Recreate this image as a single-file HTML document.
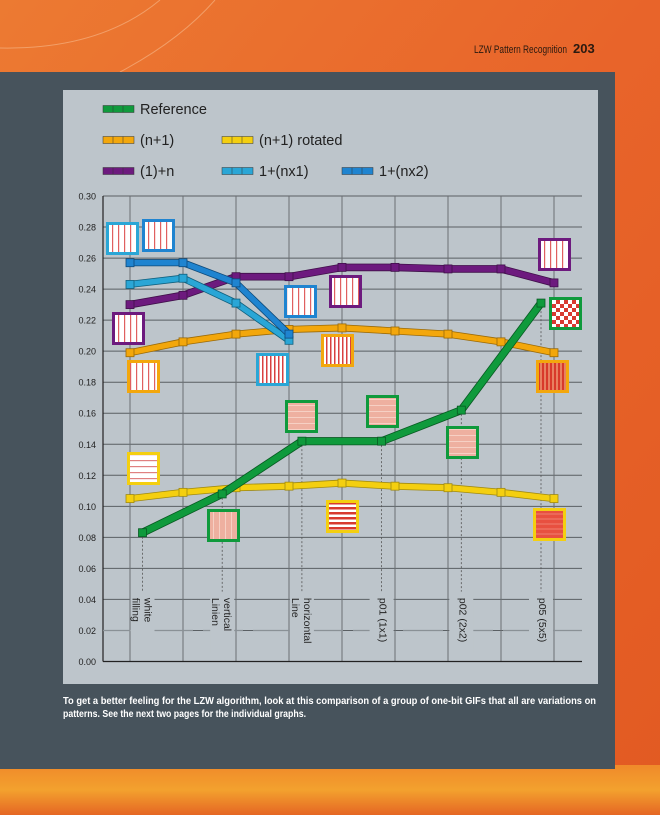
<!DOCTYPE html>
<html><head><meta charset="utf-8"><style>
html,body{margin:0;padding:0;width:660px;height:815px;overflow:hidden;font-family:"Liberation Sans",sans-serif}
</style></head><body>
<svg id="s" width="660" height="815" viewBox="0 0 660 815" xmlns="http://www.w3.org/2000/svg">
<defs>
<linearGradient id="bg" x1="0" y1="0" x2="1" y2="1"><stop offset="0" stop-color="#ec7a32"/><stop offset="0.5" stop-color="#e8642a"/><stop offset="1" stop-color="#e25a22"/></linearGradient>
<linearGradient id="bot" x1="0" y1="0" x2="0" y2="1"><stop offset="0" stop-color="#f08a2a"/><stop offset="0.5" stop-color="#f3a12e"/><stop offset="1" stop-color="#e56624"/></linearGradient>
<pattern id="pv" width="6" height="6" patternUnits="userSpaceOnUse"><rect width="6" height="6" fill="#fff"/><rect x="4" width="1.2" height="6" fill="#e06060"/></pattern>
<pattern id="pvd" width="4" height="4" patternUnits="userSpaceOnUse"><rect width="4" height="4" fill="#fff"/><rect x="2" width="1.5" height="4" fill="#d84040"/></pattern>
<pattern id="pvr" width="4" height="4" patternUnits="userSpaceOnUse"><rect width="4" height="4" fill="#e88060"/><rect x="2" width="2" height="4" fill="#d83a2a"/></pattern>
<pattern id="ph" width="6" height="6" patternUnits="userSpaceOnUse"><rect width="6" height="6" fill="#fff"/><rect y="4" width="6" height="1.2" fill="#e08080"/></pattern>
<pattern id="phr" width="5" height="5" patternUnits="userSpaceOnUse"><rect width="5" height="5" fill="#fff"/><rect y="2" width="5" height="2.5" fill="#d83a30"/></pattern>
<pattern id="phd" width="5" height="5" patternUnits="userSpaceOnUse"><rect width="5" height="5" fill="#e85040"/><rect y="3.5" width="5" height="1" fill="#f08070"/></pattern>
<pattern id="pp" width="6" height="6" patternUnits="userSpaceOnUse"><rect width="6" height="6" fill="#eeb0a0"/><rect y="3" width="6" height="1" fill="#f6d0c4"/></pattern>
<pattern id="ppv" width="6" height="6" patternUnits="userSpaceOnUse"><rect width="6" height="6" fill="#eeb0a0"/><rect x="3" width="1" height="6" fill="#f6d0c4"/></pattern>
<pattern id="ck" width="8" height="8" patternUnits="userSpaceOnUse"><rect width="8" height="8" fill="#fff"/><rect width="4" height="4" fill="#d83a30"/><rect x="4" y="4" width="4" height="4" fill="#d83a30"/></pattern>
</defs>
<rect width="660" height="815" fill="url(#bg)"/>
<rect x="0" y="765" width="660" height="50" fill="url(#bot)"/>
<path d="M0 48 Q100 50 160 0" stroke="#f5b080" stroke-width="1" fill="none" opacity="0.7"/>
<path d="M120 72 Q180 40 215 0" stroke="#f5b080" stroke-width="1" fill="none" opacity="0.7"/>
<text x="474" y="53" font-size="11" fill="#2a1a10" textLength="93" lengthAdjust="spacingAndGlyphs">LZW Pattern Recognition</text>
<text x="573" y="53" font-size="13" font-weight="bold" fill="#2a1a10">203</text>
<rect x="0" y="72" width="615" height="697" fill="#47535c"/>
<rect x="63" y="90" width="535" height="594" fill="#bdc5cb"/>
<g font-size="10.5" font-weight="bold" fill="#fff">
<text x="63" y="704" textLength="533" lengthAdjust="spacingAndGlyphs">To get a better feeling for the LZW algorithm, look at this comparison of a group of one-bit GIFs that all are variations on</text>
<text x="63" y="717" textLength="243" lengthAdjust="spacingAndGlyphs">patterns. See the next two pages for the individual graphs.</text>
</g>
<g id="legend"></g>
<g id="grid"></g>
<g id="marks"></g>
<g id="icons"></g>
</svg>
<script>
const yTicks=[0,0.02,0.04,0.06,0.08,0.10,0.12,0.14,0.16,0.18,0.20,0.22,0.24,0.26,0.28,0.30];
const yTickLabels=["0.00","0.02","0.04","0.06","0.08","0.10","0.12","0.14","0.16","0.18","0.20","0.22","0.24","0.26","0.28","0.30"];
const categories=["white|filling","vertical|Linien","horizontal|Line","p01 (1x1)","p02 (2x2)","p05 (5x5)"];
const reference=[0.083,0.108,0.142,0.142,0.162,0.231];
const nPlus1=[0.199,0.206,0.211,0.214,0.215,0.213,0.211,0.206,0.199];
const nPlus1Rotated=[0.105,0.109,0.112,0.113,0.115,0.113,0.112,0.109,0.105];
const onePlusN=[0.230,0.236,0.248,0.248,0.254,0.254,0.253,0.253,0.244];
const onePlusNx1=[0.243,0.247,0.231,0.207];
const onePlusNx2=[0.257,0.257,0.244,0.211];
const NS='http://www.w3.org/2000/svg';
const X0=103,X1=582,Y0=661.5,Y1=196;
function y(v){return Y0-(v-0)/(0.30)*(Y0-Y1);}
function xg(i){return 130+i*53;}
function xc(j){return 142.5+j*79.7;}
function mk(t,a,p){const e=document.createElementNS(NS,t);for(const k in a)e.setAttribute(k,a[k]);(p||document.getElementById('marks')).appendChild(e);return e;}
const grid=document.getElementById('grid');
yTicks.forEach((v,i)=>{
  const l=mk('line',{x1:X0,x2:X1,y1:y(v),y2:y(v),stroke:'#5a5f63','stroke-width':1},grid);
  
  
  const t=mk('text',{x:96,y:y(v)+3.5,'font-size':9,'text-anchor':'end',fill:'#222'},grid);
  t.textContent=yTickLabels[i];
  
  
});
for(let i=0;i<9;i++){
  const l=mk('line',{x1:xg(i),x2:xg(i),y1:Y1,y2:Y0,stroke:'#6a6f73','stroke-width':1},grid);
  
  
}
mk('line',{x1:X0,x2:X0,y1:Y1,y2:Y0,stroke:'#222','stroke-width':1.2},grid);
mk('line',{x1:X0,x2:X1,y1:Y0,y2:Y0,stroke:'#222','stroke-width':1.2},grid);
// dashed 0.02 line
mk('line',{x1:X0,x2:X1,y1:y(0.02),y2:y(0.02),stroke:'#8a9196','stroke-width':1.3,'stroke-dasharray':'40 10'},grid);
categories.forEach((c,j)=>{
  const x=xc(j);
  mk('rect',{x:x-12,y:y(0.045),width:24,height:y(0.0)-y(0.045)-8,fill:'#bdc5cb'},grid);
  const d=mk('line',{x1:x,x2:x,y1:y(reference[j]),y2:y(0.045),stroke:'#555','stroke-width':0.8,'stroke-dasharray':'2 2'},grid);
  
  const parts=c.split('|');
  parts.forEach((p,k)=>{
    const ox=parts.length>1?(k===0?5:-7):1;
    const t=mk('text',{transform:`translate(${x+ox-3},${y(0.041)}) rotate(90)`,'font-size':10.5,fill:'#222'},grid);
    t.textContent=p;
    
    
  });
});
function series(pts,color,dark,name,w){
  const d=pts.map((p,i)=>(i?'L':'M')+p[0].toFixed(1)+' '+p[1].toFixed(1)).join(' ');
  const g=mk('g',{});
  
  
  mk('path',{d,stroke:dark,'stroke-width':w+1.6,fill:'none','stroke-linejoin':'miter'},g);
  mk('path',{d,stroke:color,'stroke-width':w,fill:'none','stroke-linejoin':'miter'},g);
  pts.forEach(p=>{
    const r=mk('rect',{x:p[0]-4,y:p[1]-4,width:8,height:8,fill:color,stroke:dark,'stroke-width':0.8},g);
    
    
  });
}
series(nPlus1Rotated.map((v,i)=>[xg(i),y(v)]),'#f4cf10','#a08a10','series-n-plus-1-rotated',5.5);
series(nPlus1.map((v,i)=>[xg(i),y(v)]),'#f3a70c','#9a6a08','series-n-plus-1',5.5);
series(onePlusN.map((v,i)=>[xg(i),y(v)]),'#6d1a7e','#40104a','series-1-plus-n',6);
series(onePlusNx1.map((v,i)=>[xg(i),y(v)]),'#2aa6d6','#10607e','series-1-plus-nx1',5.5);
series(onePlusNx2.map((v,i)=>[xg(i),y(v)]),'#1f84d0','#0e4a7a','series-1-plus-nx2',5.5);
series(reference.map((v,j)=>[xc(j),y(v)]),'#0f9a3c','#075a22','series-reference',6.5);
// legend
const lg=document.getElementById('legend');
const leg=[[103,109,'#0f9a3c','Reference'],[103,140,'#f3a70c','(n+1)'],[222,140,'#f4cf10','(n+1) rotated'],[103,171,'#6d1a7e','(1)+n'],[222,171,'#2aa6d6','1+(nx1)'],[342,171,'#1f84d0','1+(nx2)']];
leg.forEach(l=>{
  const g=mk('g',{},lg);
  
  
  mk('rect',{x:l[0],y:l[1]-3.5,width:31,height:7,fill:l[2],stroke:'#333','stroke-width':0.5},g);
  mk('line',{x1:l[0]+10,x2:l[0]+10,y1:l[1]-3.5,y2:l[1]+3.5,stroke:'#333','stroke-width':0.5},g);
  mk('line',{x1:l[0]+20,x2:l[0]+20,y1:l[1]-3.5,y2:l[1]+3.5,stroke:'#333','stroke-width':0.5},g);
  const t=mk('text',{x:l[0]+37,y:l[1]+5,'font-size':14.5,fill:'#222'},g);
  t.textContent=l[3];
});
// icons
const ic=document.getElementById('icons');
const icons=[[106,222,'#2aa6d6','pv'],[142,219,'#1f84d0','pv'],[112,312,'#6d1a7e','pv'],[127,360,'#f3a70c','pv'],[127,452,'#f4cf10','ph'],[207,509,'#0f9a3c','ppv'],[256,353,'#2aa6d6','pvd'],[284,285,'#1f84d0','pv'],[329,275,'#6d1a7e','pv'],[321,334,'#f3a70c','pvd'],[285,400,'#0f9a3c','pp'],[326,500,'#f4cf10','phr'],[366,395,'#0f9a3c','pp'],[446,426,'#0f9a3c','pp'],[538,238,'#6d1a7e','pv'],[549,297,'#0f9a3c','ck'],[536,360,'#f3a70c','pvr'],[533,508,'#f4cf10','phd']];
icons.forEach(c=>{
  const r=mk('rect',{x:c[0]+1.5,y:c[1]+1.5,width:30,height:30,fill:`url(#${c[3]})`,stroke:c[2],'stroke-width':3},ic);
  
  
});
</script>
</body></html>
